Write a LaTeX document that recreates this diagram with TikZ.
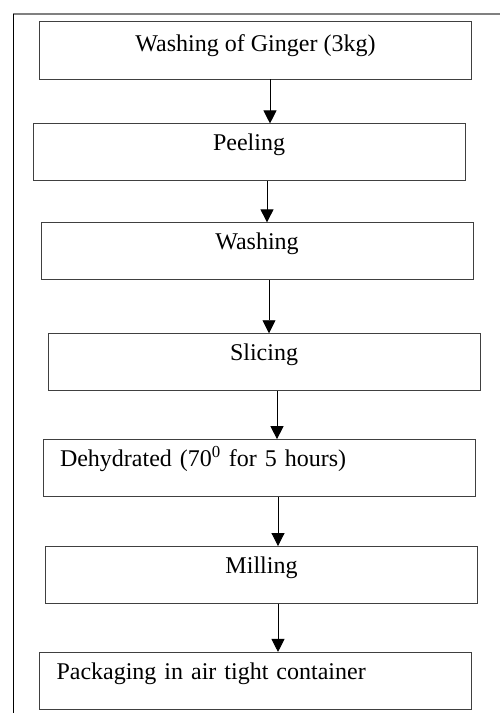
\documentclass[tikz,border=0pt]{standalone}
\usepackage{fontspec}
\setmainfont{Liberation Serif}
\usetikzlibrary{positioning, arrows.meta}

\begin{document}
\begin{tikzpicture}[
    x=1pt, y=-1pt,
    % -------------------------------------------------
    % Node styles
    % -------------------------------------------------
    stage/.style={
        rectangle,
        draw=black!75,
        line width=0.9pt,
        fill=white,
        inner xsep=0pt,
        inner ysep=0pt,
        minimum width=432pt,
        text height=27pt,
        text depth=30pt,
        align=center,
        font=\fontsize{24}{28}\selectfont
    },
    stageleft/.style={
        stage,
        inner xsep=17pt,
        text width=398pt,
        align=left
    },
    % -------------------------------------------------
    % Connections
    % -------------------------------------------------
    arrow/.style={
        -{Triangle[width=13pt, length=13pt]},
        line width=0.9pt,
        draw=black
    },
    frame/.style={
        line width=1.4pt,
        draw=black!50
    }
]

\useasboundingbox (0,0) rectangle (500,713);

% =====================================================
% Page frame
% =====================================================

\draw[frame] (13,14) -- (500,14);
\draw[line width=1pt, black] (13,14) -- (13,713);

% =====================================================
% Process stages
% =====================================================

\node[stage, text height=30pt, text depth=28pt] (ginger) at (255.5,50)
    {Washing of Ginger (3kg)};

\node[stage, below=44pt of ginger, xshift=-6.5pt] (peeling)
    {Peeling};

\node[stage, below=41pt of peeling, xshift=8pt] (washing)
    {Washing};

\node[stage, below=53pt of washing, xshift=7pt] (slicing)
    {Slicing};

\node[stageleft, below=48pt of slicing, xshift=-5pt] (dehydrated)
    {Dehydrated (70\textsuperscript{0} for 5 hours)};

\node[stage, below=49pt of dehydrated, xshift=2.5pt] (milling)
    {Milling};

\node[stageleft, below=48pt of milling, xshift=-6pt] (packaging)
    {Packaging in air tight container};

% =====================================================
% Flow
% =====================================================

\draw[arrow]
    ([xshift=14.5pt]ginger.south) -- ([xshift=14.5pt]ginger.south |- peeling.north);

\draw[arrow]
    ([xshift=18pt]peeling.south) -- ([xshift=18pt]peeling.south |- washing.north);

\draw[arrow]
    ([xshift=12pt]washing.south) -- ([xshift=12pt]washing.south |- slicing.north);

\draw[arrow]
    ([xshift=13pt]slicing.south) -- ([xshift=13pt]slicing.south |- dehydrated.north);

\draw[arrow]
    ([xshift=19pt]dehydrated.south) -- ([xshift=19pt]dehydrated.south |- milling.north);

\draw[arrow]
    ([xshift=16.5pt]milling.south) -- ([xshift=16.5pt]milling.south |- packaging.north);

\end{tikzpicture}
\end{document}
